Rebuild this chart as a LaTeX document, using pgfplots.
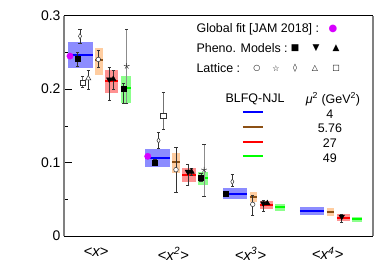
\documentclass[border=0pt]{standalone}
\usepackage{fontspec}
\setmainfont{Liberation Sans}
\newfontfamily\sym{DejaVu Sans}
\usepackage{pgfplots}
\pgfplotsset{compat=1.18}
\definecolor{bfill}{RGB}{140,140,255}
\definecolor{ofill}{RGB}{255,205,160}
\definecolor{rfill}{RGB}{255,145,145}
\definecolor{gfill}{RGB}{140,255,140}
\definecolor{bluel}{RGB}{0,0,255}
\definecolor{redl}{RGB}{255,0,0}
\definecolor{greenl}{RGB}{0,255,0}
\definecolor{brownl}{RGB}{140,80,20}
\definecolor{jam}{RGB}{215,0,255}
\begin{document}
\begin{tikzpicture}
\begin{axis}[
  width=309bp, height=220.3bp, scale only axis,
  xmin=0.5855, xmax=4.588, ymin=0, ymax=0.3,
  clip=false,
  separate axis lines,
  x axis line style={black, line width=1pt},
  y axis line style={black!50, line width=1.3pt},
  xtick={1,2,3,4},
  xticklabels={\textit{<x>},\textit{<x\textsuperscript{2}>},\textit{<x\textsuperscript{3}>},\textit{<x\textsuperscript{4}>}},
  major x tick style={draw=none},
  xtick pos=bottom, ytick pos=left,
  ytick={0,0.1,0.2,0.3}, minor y tick num=1,
  tick align=inside,
  major tick length=8bp, minor tick length=4bp,
  tick style={black, line width=0.6pt},
  /pgf/number format/assume math mode=true,
  yticklabel style={font=\fontsize{14}{16}\selectfont},
  xticklabel style={font=\fontsize{15}{17}\selectfont, yshift=-8bp},
  error bars/error bar style={black!80, line width=0.6pt},
  error bars/error mark options={black!80, mark size=1.6pt, line width=0.6pt, rotate=90},
]
% ---- BLFQ-NJL bands ----
% <x>
\addplot[fill=bfill, draw=none, forget plot] coordinates {(0.64,0.2282) (0.955,0.2282) (0.955,0.2644) (0.64,0.2644)} --cycle;
\addplot[fill=ofill, draw=none, forget plot] coordinates {(0.99,0.2190) (1.085,0.2190) (1.085,0.2554) (0.99,0.2554)} --cycle;
\addplot[fill=rfill, draw=none, forget plot] coordinates {(1.12,0.1941) (1.29,0.1941) (1.29,0.2259) (1.12,0.2259)} --cycle;
\addplot[fill=gfill, draw=none, forget plot] coordinates {(1.32,0.1814) (1.45,0.1814) (1.45,0.2177) (1.32,0.2177)} --cycle;
% <x2>
\addplot[fill=bfill, draw=none, forget plot] coordinates {(1.64,0.0943) (1.955,0.0943) (1.955,0.1180) (1.64,0.1180)} --cycle;
\addplot[fill=ofill, draw=none, forget plot] coordinates {(1.99,0.0861) (2.085,0.0861) (2.085,0.1125) (1.99,0.1125)} --cycle;
\addplot[fill=rfill, draw=none, forget plot] coordinates {(2.12,0.0739) (2.29,0.0739) (2.29,0.0929) (2.12,0.0929)} --cycle;
\addplot[fill=gfill, draw=none, forget plot] coordinates {(2.32,0.0694) (2.45,0.0694) (2.45,0.0875) (2.32,0.0875)} --cycle;
% <x3>
\addplot[fill=bfill, draw=none, forget plot] coordinates {(2.64,0.0499) (2.955,0.0499) (2.955,0.0649) (2.64,0.0649)} --cycle;
\addplot[fill=ofill, draw=none, forget plot] coordinates {(2.99,0.0467) (3.085,0.0467) (3.085,0.0603) (2.99,0.0603)} --cycle;
\addplot[fill=rfill, draw=none, forget plot] coordinates {(3.12,0.0367) (3.29,0.0367) (3.29,0.0476) (3.12,0.0476)} --cycle;
\addplot[fill=gfill, draw=none, forget plot] coordinates {(3.32,0.0344) (3.45,0.0344) (3.45,0.0435) (3.32,0.0435)} --cycle;
% <x4>
\addplot[fill=bfill, draw=none, forget plot] coordinates {(3.64,0.0286) (3.955,0.0286) (3.955,0.0399) (3.64,0.0399)} --cycle;
\addplot[fill=ofill, draw=none, forget plot] coordinates {(3.99,0.0272) (4.085,0.0272) (4.085,0.0377) (3.99,0.0377)} --cycle;
\addplot[fill=rfill, draw=none, forget plot] coordinates {(4.12,0.0208) (4.29,0.0208) (4.29,0.0295) (4.12,0.0295)} --cycle;
\addplot[fill=gfill, draw=none, forget plot] coordinates {(4.32,0.0195) (4.45,0.0195) (4.45,0.0263) (4.32,0.0263)} --cycle;
% central lines
\addplot[draw=bluel, line width=2pt, forget plot] coordinates {(0.64,0.2463) (0.955,0.2463)};
\addplot[draw=brownl, line width=2pt, forget plot] coordinates {(0.99,0.2395) (1.085,0.2395)};
\addplot[draw=redl, line width=2pt, forget plot] coordinates {(1.12,0.2109) (1.29,0.2109)};
\addplot[draw=greenl, line width=2pt, forget plot] coordinates {(1.32,0.2010) (1.45,0.2010)};
\addplot[draw=bluel, line width=2pt, forget plot] coordinates {(1.64,0.1065) (1.955,0.1065)};
\addplot[draw=brownl, line width=2pt, forget plot] coordinates {(1.99,0.1011) (2.085,0.1011)};
\addplot[draw=redl, line width=2pt, forget plot] coordinates {(2.12,0.0834) (2.29,0.0834)};
\addplot[draw=greenl, line width=2pt, forget plot] coordinates {(2.32,0.0785) (2.45,0.0785)};
\addplot[draw=bluel, line width=2pt, forget plot] coordinates {(2.64,0.0576) (2.955,0.0576)};
\addplot[draw=brownl, line width=2pt, forget plot] coordinates {(2.99,0.0535) (3.085,0.0535)};
\addplot[draw=redl, line width=2pt, forget plot] coordinates {(3.12,0.0422) (3.29,0.0422)};
\addplot[draw=greenl, line width=2pt, forget plot] coordinates {(3.32,0.0390) (3.45,0.0390)};
\addplot[draw=bluel, line width=2pt, forget plot] coordinates {(3.64,0.0344) (3.955,0.0344)};
\addplot[draw=brownl, line width=2pt, forget plot] coordinates {(3.99,0.0327) (4.085,0.0327)};
\addplot[draw=redl, line width=2pt, forget plot] coordinates {(4.12,0.0249) (4.29,0.0249)};
\addplot[draw=greenl, line width=2pt, forget plot] coordinates {(4.32,0.0227) (4.45,0.0227)};
% ---- Lattice (open markers) ----
\addplot[only marks, mark=*, mark size=2.3pt, mark options={fill=white, draw=black!80, line width=0.5pt},
  error bars/.cd, y dir=both, y explicit] coordinates {
  (1.03,0.2404) += (0,0.0127) -= (0,0.0101)
  (2.036,0.0903) += (0,0.031) -= (0,0.0305)
  (3.03,0.0431) += (0,0.0127) -= (0,0.0145)
};
\addplot[only marks, mark=star, mark size=3pt, mark options={draw=black!80, line width=0.5pt},
  error bars/.cd, y dir=both, y explicit, error bar style={black!45, line width=1pt}] coordinates {
  (1.398,0.2313) += (0,0.05) -= (0,0.0503)
  (2.40,0.0900) += (0,0.035) -= (0,0.0356)
};
\addplot[only marks, mark=diamond*, mark size=2.8pt, mark options={fill=white, draw=black!80, line width=0.5pt, xscale=0.75},
  error bars/.cd, y dir=both, y explicit] coordinates {
  (0.793,0.2721) += (0,0.0091) -= (0,0.0091)
  (1.81,0.1300) += (0,0.011) -= (0,0.011)
  (2.766,0.0739) += (0,0.010) -= (0,0.0068)
};
\addplot[only marks, mark=triangle*, mark size=3pt, mark options={fill=white, draw=black!80, line width=0.5pt},
  error bars/.cd, y dir=both, y explicit] coordinates {
  (0.90,0.2146) += (0,0.0113) -= (0,0.015)
};
\addplot[only marks, mark=square*, mark size=2.6pt, mark options={fill=white, draw=black!80, line width=0.5pt},
  error bars/.cd, y dir=both, y explicit, error bar style={black!55, line width=0.9pt}] coordinates {
  (0.828,0.2086) += (0,0.0091) -= (0,0.0063)
  (1.872,0.1637) += (0,0.0326) -= (0,0.0185)
};
% ---- Pheno. models ----
\addplot[only marks, mark=square*, mark size=2.6pt, mark options={fill=black, draw=black},
  error bars/.cd, y dir=both, y explicit] coordinates {
  (0.763,0.2418) += (0,0.0089) -= (0,0.0101)
  (1.354,0.2010) += (0,0.0072) -= (0,0.020)
  (1.764,0.1000) += (0,0.0048) -= (0,0.0044)
  (2.36,0.0799) += (0,0.006) -= (0,0.006)
  (2.68,0.0581) += (0,0.002) -= (0,0.002)
};
\addplot[only marks, mark=triangle*, mark size=3.2pt, mark options={fill=black, draw=black, rotate=180},
  error bars/.cd, y dir=both, y explicit] coordinates {
  (1.172,0.2132) += (0,0.0171) -= (0,0.0282)
  (2.19,0.0875) += (0,0.0095) -= (0,0.0185)
  (3.167,0.0445) += (0,0.0045) -= (0,0.0115)
  (4.183,0.0263) += (0,0.003) -= (0,0.0083)
};
\addplot[only marks, mark=triangle*, mark size=3.2pt, mark options={fill=black, draw=black},
  error bars/.cd, y dir=both, y explicit] coordinates {
  (1.224,0.2136) += (0,0.0123) -= (0,0.014)
  (2.237,0.0875) += (0,0.005) -= (0,0.005)
  (3.219,0.0445) += (0,0.002) -= (0,0.002)
};
% ---- JAM global fit ----
\addplot[only marks, mark=*, mark size=3.2pt, mark options={fill=jam, draw=jam}] coordinates {
  (0.663,0.2450) (1.67,0.1085)
};
% ---- legend ----
\node[anchor=west, font=\fontsize{12.5}{14}\selectfont, inner sep=0pt] at (axis cs:2.30,0.2816) {Global fit [JAM 2018] :};
\node[font=\sym\fontsize{10}{12}\selectfont, text=jam, inner sep=0pt] at (axis cs:4.07,0.2816) {●};
\node[anchor=west, font=\fontsize{12.5}{14}\selectfont, inner sep=0pt] at (axis cs:2.30,0.2562) {Pheno. Models :};
\node[font=\sym\fontsize{9}{11}\selectfont, inner sep=0pt] at (axis cs:3.578,0.2562) {■};
\node[font=\sym\fontsize{9}{11}\selectfont, inner sep=0pt] at (axis cs:3.85,0.2562) {▼};
\node[font=\sym\fontsize{9}{11}\selectfont, inner sep=0pt] at (axis cs:4.109,0.2562) {▲};
\node[anchor=west, font=\fontsize{12.5}{14}\selectfont, inner sep=0pt] at (axis cs:2.30,0.2282) {Lattice :};
\node[font=\sym\fontsize{8}{10}\selectfont, inner sep=0pt] at (axis cs:3.085,0.2282) {○};
\node[font=\sym\fontsize{8}{10}\selectfont, inner sep=0pt] at (axis cs:3.332,0.2282) {☆};
\node[font=\sym\fontsize{8}{10}\selectfont, inner sep=0pt] at (axis cs:3.578,0.2282) {◊};
\node[font=\sym\fontsize{8}{10}\selectfont, inner sep=0pt] at (axis cs:3.837,0.2282) {△};
\node[font=\sym\fontsize{8}{10}\selectfont, inner sep=0pt] at (axis cs:4.109,0.2282) {□};
\node[font=\fontsize{12.5}{14}\selectfont, inner sep=0pt] at (axis cs:3.06,0.1864) {BLFQ-NJL};
\node[font=\fontsize{12.5}{14}\selectfont, inner sep=0pt] at (axis cs:4.07,0.1864) {\textit{μ}\textsuperscript{2} (GeV\textsuperscript{2})};
\addplot[draw=bluel, line width=1.6pt, forget plot] coordinates {(2.904,0.1691) (3.163,0.1691)};
\addplot[draw=brownl, line width=1.6pt, forget plot] coordinates {(2.904,0.1483) (3.163,0.1483)};
\addplot[draw=redl, line width=1.6pt, forget plot] coordinates {(2.904,0.1283) (3.163,0.1283)};
\addplot[draw=greenl, line width=1.6pt, forget plot] coordinates {(2.904,0.1088) (3.163,0.1088)};
\node[font=\fontsize{12.5}{14}\selectfont, inner sep=0pt] at (axis cs:4.03,0.1656) {4};
\node[font=\fontsize{12.5}{14}\selectfont, inner sep=0pt] at (axis cs:4.03,0.1465) {5.76};
\node[font=\fontsize{12.5}{14}\selectfont, inner sep=0pt] at (axis cs:4.03,0.1261) {27};
\node[font=\fontsize{12.5}{14}\selectfont, inner sep=0pt] at (axis cs:4.03,0.1065) {49};
\end{axis}
\pgfresetboundingbox
\path[use as bounding box] ([xshift=-64bp,yshift=-42bp]current axis.south west) rectangle ([xshift=13bp,yshift=15.7bp]current axis.north east);
\end{tikzpicture}
\end{document}
